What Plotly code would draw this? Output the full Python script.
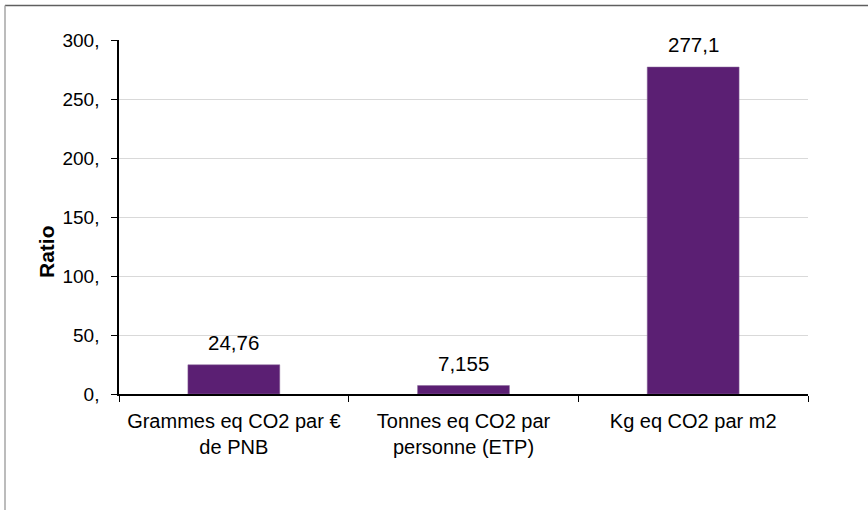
import plotly.graph_objects as go

categories = ["Grammes eq CO2 par €<br>de PNB", "Tonnes eq CO2 par<br>personne (ETP)", "Kg eq CO2 par m2"]
values = [24.76, 7.155, 277.1]
value_labels = ["24,76", "7,155", "277,1"]
y_ticks = [0, 50, 100, 150, 200, 250, 300]
y_tick_labels = ["0,", "50,", "100,", "150,", "200,", "250,", "300,"]
y_title = "Ratio"

W, H = 868, 510
L, R, T, B = 119, 60, 40, 116
FONT = "Liberation Sans, Arial, sans-serif"

fig = go.Figure()
fig.add_trace(go.Bar(
    x=categories, y=values,
    marker=dict(color="#5B1F73", line=dict(color="#8a6a9a", width=0.5)),
    width=0.4,
    hoverinfo="skip",
))

for c, v, t in zip(categories, values, value_labels):
    fig.add_annotation(x=c, y=v, text=t, showarrow=False, yanchor="bottom",
                       yshift=9, font=dict(family=FONT, size=20.5, color="#000000"))

pw = W - L - R
ph = H - T - B
# y-axis title
fig.add_annotation(xref="paper", yref="paper", x=(46 - L) / pw, y=(H - B - 252) / ph,
                   xanchor="center", yanchor="middle", textangle=-90, showarrow=False,
                   text="<b>" + y_title + "</b>", font=dict(family=FONT, size=21, color="#000000"))
# outer frame lines (partial chart border)
fig.add_shape(type="line", xref="paper", yref="paper",
              x0=(5 - L) / pw, x1=(W + 5 - L) / pw,
              y0=(H - B - 5.5) / ph, y1=(H - B - 5.5) / ph,
              line=dict(color="#5f5f5f", width=1.5))
fig.add_shape(type="line", xref="paper", yref="paper",
              x0=(5 - L) / pw, x1=(5 - L) / pw,
              y0=(H - B - 5.5) / ph, y1=(-B - 5) / ph,
              line=dict(color="#a6a6a6", width=1.5))

fig.update_layout(
    width=W, height=H,
    margin=dict(l=L, r=R, t=T, b=B, pad=0),
    paper_bgcolor="white", plot_bgcolor="white",
    showlegend=False,
    font=dict(family=FONT, size=19, color="#000000"),
    xaxis=dict(
        type="category",
        showline=True, linecolor="#000000", linewidth=1.5,
        ticks="outside", tickson="boundaries", ticklen=6, tickcolor="#000000", tickwidth=1,
        showgrid=False, zeroline=False,
        tickfont=dict(family=FONT, size=20, color="#000000"),
        ticklabelstandoff=8,
        range=[-0.5, 2.5],
        layer="above traces",
    ),
    yaxis=dict(
        range=[0, 300],
        tickmode="array", tickvals=y_ticks, ticktext=y_tick_labels,
        showline=True, linecolor="#000000", linewidth=1.5,
        ticks="outside", ticklen=6, tickcolor="#000000", tickwidth=1,
        showgrid=True, gridcolor="#d9d9d9", gridwidth=1,
        zeroline=False,
        tickfont=dict(family=FONT, size=19, color="#000000"),
        ticklabelstandoff=8,
        layer="above traces",
    ),
)

fig.write_html("out.html", config={"displayModeBar": False},
               post_script="document.body.style.margin='0';document.body.style.padding='0';")
